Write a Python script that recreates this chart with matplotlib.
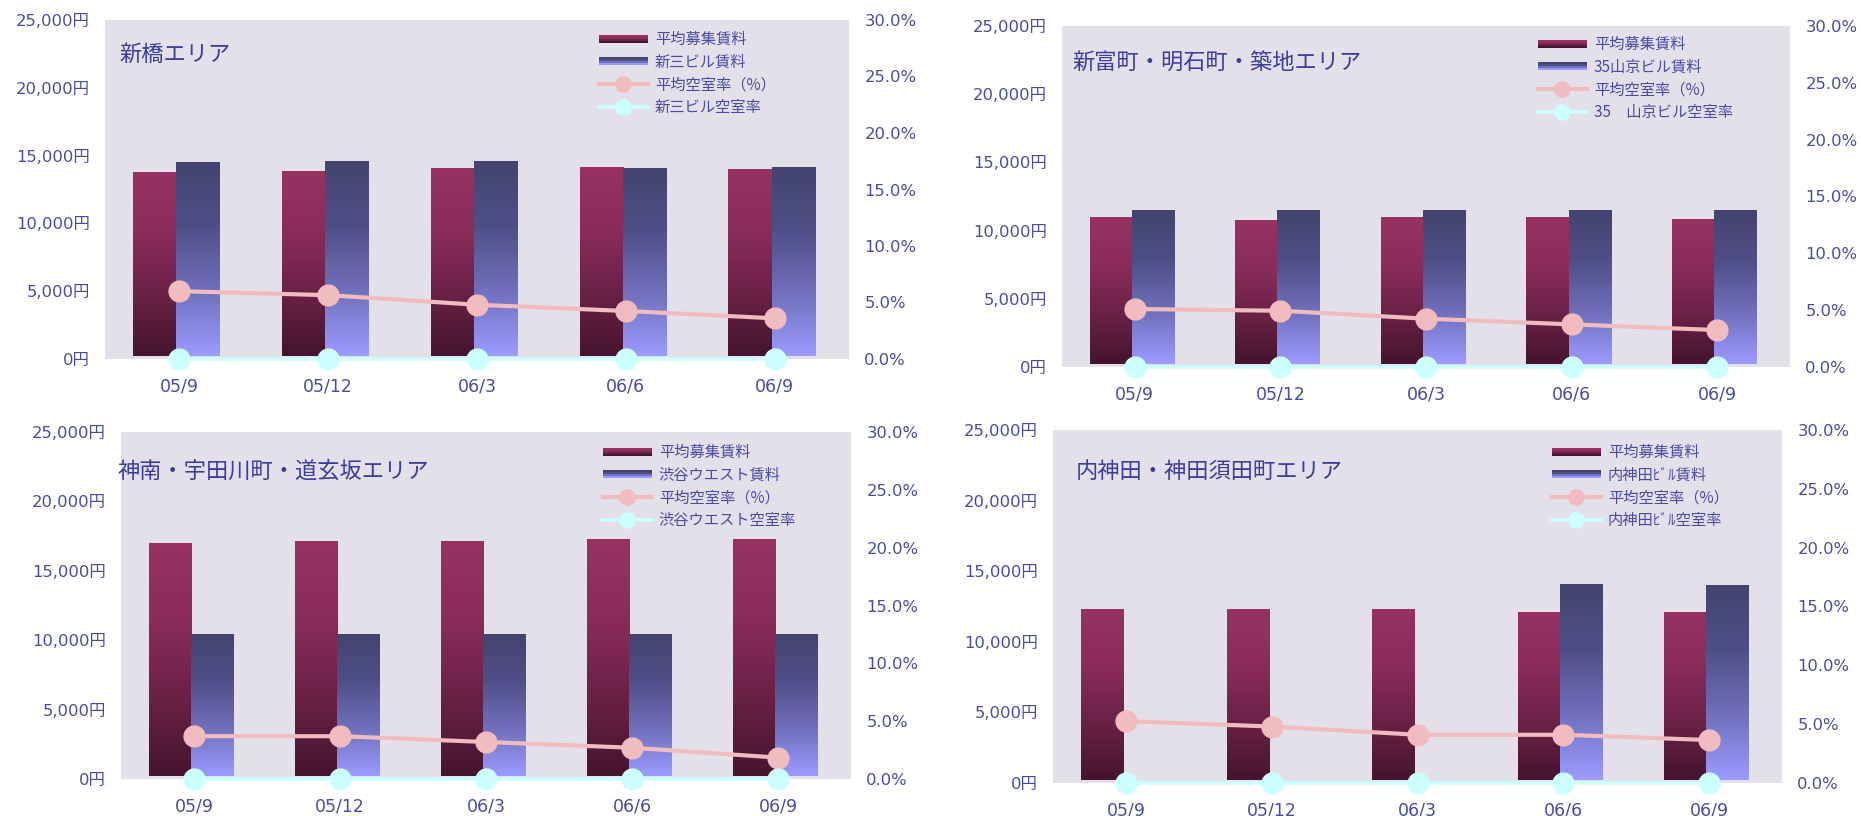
import numpy as np
import matplotlib
matplotlib.use("Agg")
import matplotlib.pyplot as plt
from matplotlib.colors import LinearSegmentedColormap
from matplotlib.legend_handler import HandlerBase
from matplotlib.lines import Line2D
from matplotlib.patches import Rectangle
from matplotlib.ticker import FuncFormatter

# ---- data ----
periods = ["05/9", "05/12", "06/3", "06/6", "06/9"]

area_titles = ["新橋エリア", "新富町・明石町・築地エリア",
               "神南・宇田川町・道玄坂エリア", "内神田・神田須田町エリア"]
rent_labels = ["新三ビル賃料", "35山京ビル賃料", "渋谷ウエスト賃料", "内神田ﾋﾞﾙ賃料"]
vac_labels = ["新三ビル空室率", "35　山京ビル空室率", "渋谷ウエスト空室率", "内神田ﾋﾞﾙ空室率"]

shinbashi_avg_rent = [13720, 13790, 14010, 14090, 13940]
shinbashi_bldg_rent = [14450, 14530, 14530, 14010, 14090]
shinbashi_avg_vac = [6.0, 5.65, 4.8, 4.25, 3.6]
shinbashi_bldg_vac = [0.0, 0.0, 0.0, 0.0, 0.0]

shintomi_avg_rent = [10910, 10690, 10910, 10910, 10760]
shintomi_bldg_rent = [11420, 11420, 11420, 11420, 11420]
shintomi_avg_vac = [5.1, 4.95, 4.25, 3.75, 3.25]
shintomi_bldg_vac = [0.0, 0.0, 0.0, 0.0, 0.0]

jinnan_avg_rent = [16920, 17070, 17070, 17210, 17210]
jinnan_bldg_rent = [10430, 10430, 10430, 10430, 10430]
jinnan_avg_vac = [3.7, 3.7, 3.2, 2.7, 1.85]
jinnan_bldg_vac = [0.0, 0.0, 0.0, 0.0, 0.0]

uchikanda_avg_rent = [12310, 12310, 12310, 12030, 12030]
uchikanda_bldg_rent = [np.nan, np.nan, np.nan, 14080, 14010]
uchikanda_avg_vac = [5.25, 4.8, 4.1, 4.1, 3.65]
uchikanda_bldg_vac = [0.0, 0.0, 0.0, 0.0, 0.0]

avg_rents = [shinbashi_avg_rent, shintomi_avg_rent, jinnan_avg_rent, uchikanda_avg_rent]
bldg_rents = [shinbashi_bldg_rent, shintomi_bldg_rent, jinnan_bldg_rent, uchikanda_bldg_rent]
avg_vacs = [shinbashi_avg_vac, shintomi_avg_vac, jinnan_avg_vac, uchikanda_avg_vac]
bldg_vacs = [shinbashi_bldg_vac, shintomi_bldg_vac, jinnan_bldg_vac, uchikanda_bldg_vac]

# ---- layout (pixels: left, right, top, bottom), title and legend offsets ----
W, H = 1861, 816
boxes = [(105, 849, 20, 359), (1062, 1790, 26, 367),
         (121, 851, 432, 779), (1053, 1782, 430, 783)]
title_off = [(14, 34), (10, 37), (-3, 39), (23, 41)]
legend_off = [(494, 18), (476, 17), (482, 19), (499, 21)]

TEXT = "#4a4aa6"
BG = "#e3e0ea"
PINK = "#f1bcc0"
CYAN = "#ccffff"
CJK = ["Noto Sans CJK JP", "DejaVu Sans"]
TICKF = ["DejaVu Sans", "Noto Sans CJK JP"]

rent_cmap = LinearSegmentedColormap.from_list(
    "rent", ["#973262", "#8a2c5a", "#6a2146", "#451430"])
bldg_cmap = LinearSegmentedColormap.from_list(
    "bldg", ["#44446f", "#4f4f88", "#7070bd", "#9c9bff"])
grad = np.linspace(0, 1, 256).reshape(-1, 1)


class GradientHandle(HandlerBase):
    def __init__(self, cmap):
        super().__init__()
        self.cmap = cmap

    def create_artists(self, legend, orig_handle, xdescent, ydescent,
                       width, height, fontsize, trans):
        n = 4
        h = height * 0.75
        y0 = -ydescent + (height - h) / 2
        arts = []
        for i in range(n):
            r = Rectangle((-xdescent, y0 + h - (i + 1) * h / n), width, h / n,
                          facecolor=self.cmap(i / (n - 1)), edgecolor="none",
                          transform=trans)
            arts.append(r)
        return arts


fig = plt.figure(figsize=(W / 100, H / 100), dpi=100)
fig.patch.set_facecolor("white")

x = np.arange(len(periods)) + 0.5
bw = 0.29

for i in range(4):
    l, r, t, b = boxes[i]
    ax = fig.add_axes([l / W, 1 - b / H, (r - l) / W, (b - t) / H])
    ax.set_facecolor(BG)
    ax.set_zorder(1)

    bars1 = ax.bar(x - 0.165, avg_rents[i], bw, color="none", edgecolor="none")
    bars2 = ax.bar(x + 0.125, bldg_rents[i], bw, color="none", edgecolor="none")
    for bars, cmap in ((bars1, rent_cmap), (bars2, bldg_cmap)):
        for p in bars:
            hgt = p.get_height()
            if not np.isfinite(hgt):
                continue
            ax.imshow(grad, cmap=cmap, aspect="auto", zorder=2,
                      extent=(p.get_x(), p.get_x() + p.get_width(), 200, hgt))

    ax.set_xlim(0, 5)
    ax.set_ylim(0, 25000)
    ax.set_yticks(np.arange(0, 25001, 5000))
    ax.yaxis.set_major_formatter(FuncFormatter(lambda v, pos: f"{int(v):,}円"))
    ax.set_xticks(x)
    ax.set_xticklabels(periods)
    ax.tick_params(axis="y", length=0, pad=11, labelsize=11.8, labelcolor=TEXT)
    ax.tick_params(axis="x", length=0, pad=13, labelsize=12.5, labelcolor=TEXT)
    for lab in ax.get_yticklabels() + ax.get_xticklabels():
        lab.set_family(TICKF)
    for s in ax.spines.values():
        s.set_visible(False)

    ax2 = ax.twinx()
    ax2.set_ylim(0, 30)
    ax2.set_yticks(np.arange(0, 30.1, 5))
    ax2.yaxis.set_major_formatter(FuncFormatter(lambda v, pos: f"{v:.1f}%"))
    ax2.tick_params(axis="y", length=0, pad=11, labelsize=11.8, labelcolor=TEXT)
    for lab in ax2.get_yticklabels():
        lab.set_family(TICKF)
    for s in ax2.spines.values():
        s.set_visible(False)

    ax2.plot(x, avg_vacs[i], color=PINK, lw=3, marker="o", ms=15,
             mec=PINK, mfc=PINK, clip_on=False, zorder=3)
    ax2.plot(x, bldg_vacs[i], color=CYAN, lw=2.6, marker="o", ms=15,
             mec=CYAN, mfc=CYAN, clip_on=False, zorder=3)

    dx, dy = title_off[i]
    ax.text(dx / (r - l), 1 - dy / (b - t), area_titles[i], transform=ax.transAxes,
            fontsize=16, color="#3c3c9c", family=CJK, va="center", ha="left")

    h1 = Rectangle((0, 0), 1, 1)
    h2 = Rectangle((0, 0), 1, 1)
    h3 = Line2D([], [], color=PINK, lw=3, marker="o", ms=11, mec=PINK, mfc=PINK)
    h4 = Line2D([], [], color=CYAN, lw=2.6, marker="o", ms=11, mec=CYAN, mfc=CYAN)
    lx, ly = legend_off[i]
    leg = ax2.legend([h1, h2, h3, h4],
                     ["平均募集賃料", rent_labels[i], "平均空室率（%）", vac_labels[i]],
                     handler_map={h1: GradientHandle(rent_cmap),
                                  h2: GradientHandle(bldg_cmap)},
                     loc="upper left",
                     bbox_to_anchor=(lx / (r - l), 1 - (ly - 7) / (b - t)),
                     frameon=False, borderpad=0, borderaxespad=0,
                     handlelength=3.2, handletextpad=0.45, labelspacing=0.37,
                     prop={"family": CJK, "size": 11})
    for txt in leg.get_texts():
        txt.set_color(TEXT)

fig.savefig("out.png", dpi=100, facecolor="white")
